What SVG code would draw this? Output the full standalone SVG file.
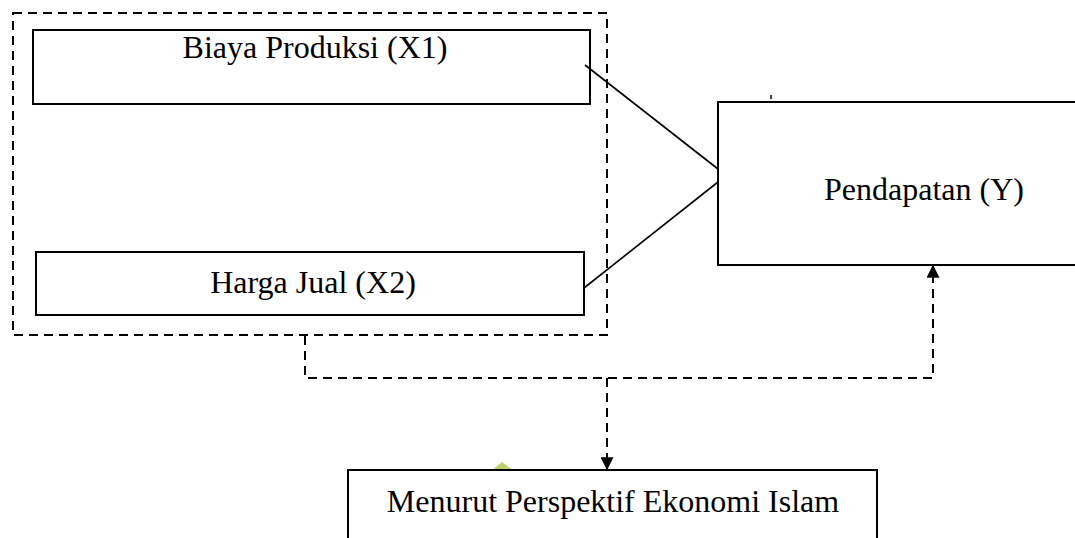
<svg xmlns="http://www.w3.org/2000/svg" width="1075" height="538" viewBox="0 0 1075 538">
<defs>
<style>
.box{fill:#fff;stroke:#000;stroke-width:2}
.dash{fill:none;stroke:#000;stroke-width:2;stroke-dasharray:9 6}
.line{fill:none;stroke:#000;stroke-width:1.6}
.t{font-family:"Liberation Serif","Times New Roman",serif;font-size:32px;fill:#000;text-anchor:middle}
</style>
<marker id="ah" viewBox="0 0 10 10" refX="9" refY="5" markerWidth="6.5" markerHeight="6.5" orient="auto" markerUnits="strokeWidth">
<path d="M0,0 L10,5 L0,10 z" fill="#000"/>
</marker>
</defs>
<rect width="1075" height="538" fill="#fff"/>
<polygon points="491,471 502,462 514,471" fill="#bcd36a"/>
<g id="group-x">
<rect class="dash" x="13" y="13" width="594" height="322"/>
</g>
<g id="x1">
<rect class="box" x="33" y="30" width="557" height="74"/>
<text class="t" x="315" y="58">Biaya Produksi (X1)</text>
</g>
<g id="x2">
<rect class="box" x="36" y="252" width="548" height="63"/>
<text class="t" x="313" y="293">Harga Jual (X2)</text>
</g>
<g id="y">
<rect class="box" x="718" y="102" width="370" height="163"/>
<text class="t" x="924" y="200">Pendapatan (Y)</text>
<line x1="771" y1="95" x2="771" y2="99" stroke="#000" stroke-width="1.5"/>
</g>
<g id="islam">
<rect class="box" x="348" y="470" width="529" height="80"/>
<text class="t" x="613" y="512">Menurut Perspektif Ekonomi Islam</text>
</g>
<g id="connectors">
<line class="line" x1="585" y1="65" x2="718" y2="169"/>
<line class="line" x1="584" y1="288" x2="718" y2="182"/>
<polyline class="dash" points="305,336 305,378 933,378 933,266" marker-end="url(#ah)"/>
<line class="dash" x1="607" y1="378" x2="607" y2="469" marker-end="url(#ah)"/>
</g>
</svg>
